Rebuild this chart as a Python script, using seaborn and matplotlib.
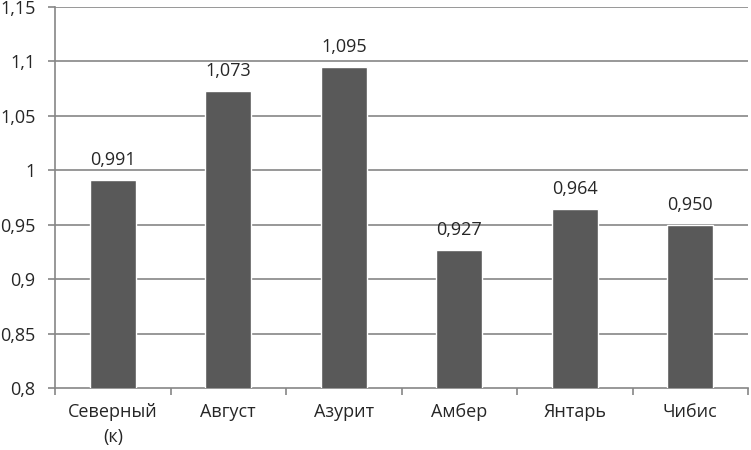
import matplotlib
matplotlib.use("Agg")
import matplotlib.pyplot as plt
import seaborn as sns
import pandas as pd
import numpy as np

categories = ["Северный\n(к)", "Август", "Азурит", "Амбер", "Янтарь", "Чибис"]
values = [0.991, 1.073, 1.095, 0.927, 0.964, 0.950]
yticks = [0.8, 0.85, 0.9, 0.95, 1.0, 1.05, 1.1, 1.15]
ytick_labels = ["0,8", "0,85", "0,9", "0,95", "1", "1,05", "1,1", "1,15"]

sns.set_style("white")
plt.rcParams['font.family'] = ['Open Sans', 'DejaVu Sans']

df = pd.DataFrame({"cat": categories, "val": values})

fig = plt.figure(figsize=(7.51, 4.5), dpi=100)
ax = fig.add_axes([55/751, 1-388/450, (748-55)/751, (388-7)/450])

grid_c = "#868686"
sns.barplot(data=df, x="cat", y="val", color="#595959", width=0.395,
            saturation=1, ax=ax, zorder=3)
ax.set_ylim(0.8, 1.15)
ax.set_xlim(-0.5, len(categories) - 0.5)
ax.set_yticks(yticks)
ax.set_yticklabels(ytick_labels, fontsize=13)
ax.set_xlabel("")
ax.set_ylabel("")
ax.tick_params(axis="x", length=0, pad=11)
for lbl in ax.get_xticklabels():
    lbl.set_fontsize(13)
    lbl.set_linespacing(1.45)
for y in yticks[1:]:
    ax.axhline(y, color=grid_c, lw=1.2, zorder=1)

for s in ["top", "right"]:
    ax.spines[s].set_visible(False)
for s in ["left", "bottom"]:
    ax.spines[s].set_color(grid_c)
    ax.spines[s].set_linewidth(1.2)
ax.tick_params(axis="y", length=5, color=grid_c, width=1.2, direction="out", left=True, pad=9)

# x tick marks between categories
ax.set_xticks(np.arange(-0.5, len(categories)), minor=True)
ax.tick_params(axis="x", which="minor", length=5, color=grid_c, width=1.2, direction="out", bottom=True)

for i, v in enumerate(values):
    ax.annotate(f"{v:.3f}".replace(".", ","), xy=(i, v), xytext=(0, 8),
                textcoords="offset points", ha="center", va="bottom", fontsize=13)

fig.savefig("out.png", dpi=100)
